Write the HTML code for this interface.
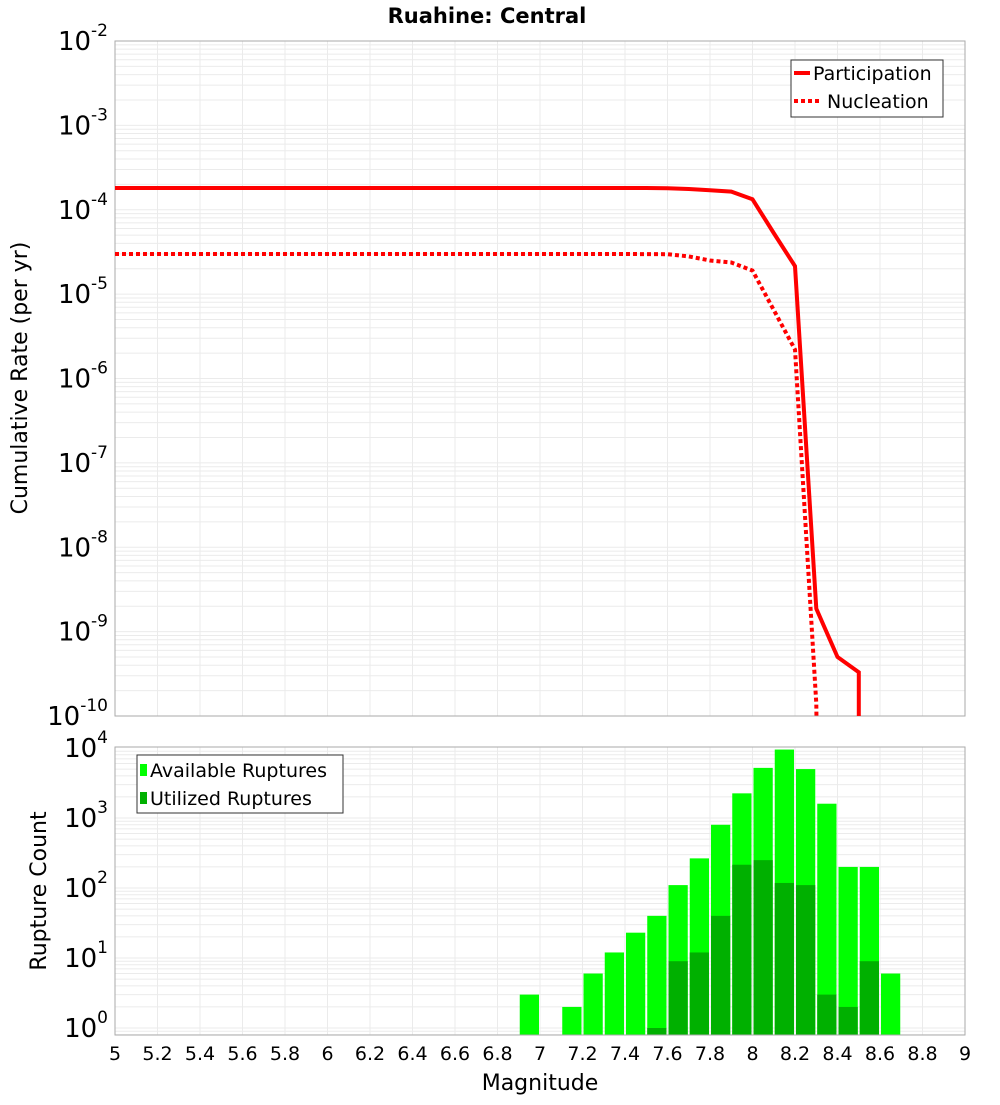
<!DOCTYPE html>
<html><head><meta charset="utf-8"><style>
body{margin:0;background:#fff;}
svg text{font-family:"DejaVu Sans","Liberation Sans",sans-serif;}
</style></head><body>
<svg id="c" width="1000" height="1100" xmlns="http://www.w3.org/2000/svg">
<rect width="1000" height="1100" fill="#fff"/>
<text x="487" y="23" text-anchor="middle" font-size="21" font-weight="bold">Ruahine: Central</text>
<g id="topg"></g><g id="botg"></g>
<text transform="translate(27,378) rotate(-90)" text-anchor="middle" font-size="22">Cumulative Rate (per yr)</text>
<text transform="translate(46,891) rotate(-90)" text-anchor="middle" font-size="22">Rupture Count</text>
<text x="540" y="1090" text-anchor="middle" font-size="22">Magnitude</text>
</svg>
<script>
const partMags=[5,5.1,5.2,5.3,5.4,5.5,5.6,5.7,5.8,5.9,6,6.1,6.2,6.3,6.4,6.5,6.6,6.7,6.8,6.9,7,7.1,7.2,7.3,7.4,7.5,7.6,7.7,7.8,7.9,8.0,8.1,8.2,8.3,8.4,8.5,8.5001];
const partVals=[1.81e-4,1.81e-4,1.81e-4,1.81e-4,1.81e-4,1.81e-4,1.81e-4,1.81e-4,1.81e-4,1.81e-4,1.81e-4,1.81e-4,1.81e-4,1.81e-4,1.81e-4,1.81e-4,1.81e-4,1.81e-4,1.81e-4,1.81e-4,1.81e-4,1.81e-4,1.81e-4,1.81e-4,1.81e-4,1.81e-4,1.8e-4,1.76e-4,1.7e-4,1.64e-4,1.33e-4,5.3e-5,2.14e-5,1.87e-9,5.0e-10,3.3e-10,1e-12];
const nuclMags=[5,5.2,5.4,5.6,5.8,6,6.2,6.4,6.6,6.8,7,7.2,7.4,7.6,7.7,7.8,7.9,8.0,8.1,8.2,8.3,8.31];
const nuclVals=[2.99e-5,2.99e-5,2.99e-5,2.99e-5,2.99e-5,2.99e-5,2.99e-5,2.99e-5,2.99e-5,2.99e-5,2.99e-5,2.99e-5,2.99e-5,2.97e-5,2.8e-5,2.5e-5,2.37e-5,1.9e-5,6.5e-6,2.2e-6,1.4e-10,1e-12];
const binMags=[6.9,7.1,7.2,7.3,7.4,7.5,7.6,7.7,7.8,7.9,8.0,8.1,8.2,8.3,8.4,8.5,8.6];
const availCounts=[3,2,6,12,23,40,110,265,800,2250,5200,9500,5000,1600,200,200,6];
const usedCounts=[0,0,0,0,0,1,9,12,40,215,250,118,110,3,2,9,0];
const xTicks=[5,5.2,5.4,5.6,5.8,6,6.2,6.4,6.6,6.8,7,7.2,7.4,7.6,7.8,8,8.2,8.4,8.6,8.8,9];
const topExps=[-2,-3,-4,-5,-6,-7,-8,-9,-10];
const botExps=[4,3,2,1,0];

const NS="http://www.w3.org/2000/svg";
const L=115,R=965;
const X=m=>L+(m-5)*(R-L)/4;
const TT=41,TB=716;
const Yt=v=>TT+(-2-Math.log10(v))*(TB-TT)/8;
const BT=747,BB=1035;
const Yb=v=>1028-Math.log10(v)*70;
function mk(p,tag,at){const e=document.createElementNS(NS,tag);for(const k in at)e.setAttribute(k,at[k]);p.appendChild(e);return e;}
const topG=document.getElementById('topg'),botG=document.getElementById('botg');
let tg=mk(topG,'g',{});


for(let e=-10;e<-2;e++)for(let k=1;k<10;k++){const y=Yt(k*Math.pow(10,e));mk(tg,'line',{x1:L,x2:R,y1:y,y2:y,stroke:'#ebebeb','stroke-width':1});}
xTicks.forEach(t=>{mk(tg,'line',{x1:X(t),x2:X(t),y1:TT,y2:TB,stroke:'#ebebeb'});});
mk(topG,'rect',{x:L,y:TT,width:R-L,height:TB-TT,fill:'none',stroke:'#aaa'});
topExps.forEach(e=>{const t=mk(topG,'text',{x:L-7,y:Yt(Math.pow(10,e))+9,'text-anchor':'end','font-size':26});


t.innerHTML='10<tspan dy="-14" font-size="17">'+e+'</tspan>';});
const defs=mk(topG,'defs',{});const cp=mk(defs,'clipPath',{id:'cpt'});mk(cp,'rect',{x:L,y:TT,width:R-L,height:TB-TT});
function line(mags,vals,dash,name){const d=mags.map((m,i)=>(i?'L':'M')+X(m).toFixed(1)+','+Yt(vals[i]).toFixed(1)).join('');
const p=mk(topG,'path',{d:d,fill:'none',stroke:'#f00','stroke-width':4,'clip-path':'url(#cpt)'});if(dash)p.setAttribute('stroke-dasharray','4,3');

}
line(partMags,partVals,false,'participation-line');
line(nuclMags,nuclVals,true,'nucleation-line');
let lg=mk(topG,'g',{});


mk(lg,'rect',{x:791,y:60,width:152,height:57,fill:'#fff',stroke:'#333'});
mk(lg,'line',{x1:794,x2:810,y1:73,y2:73,stroke:'#f00','stroke-width':4});
mk(lg,'line',{x1:794,x2:822,y1:101,y2:101,stroke:'#f00','stroke-width':4,'stroke-dasharray':'4,3'});
let t1=mk(lg,'text',{x:813,y:80,'font-size':19});t1.textContent='Participation';
let t2=mk(lg,'text',{x:827,y:108,'font-size':19});t2.textContent='Nucleation';
let bg=mk(botG,'g',{});


for(let e=-1;e<4;e++)for(let k=1;k<10;k++){const y=Yb(k*Math.pow(10,e));if(y>BT&&y<BB)mk(bg,'line',{x1:L,x2:R,y1:y,y2:y,stroke:'#ebebeb'});}
xTicks.forEach(t=>{mk(bg,'line',{x1:X(t),x2:X(t),y1:BT,y2:BB,stroke:'#ebebeb'});});
const w=(R-L)/40;
binMags.forEach((m,i)=>{const x=X(m)+1;
if(availCounts[i]>0){const r=mk(botG,'rect',{x:x,y:Yb(availCounts[i]),width:w-2,height:BB-Yb(availCounts[i]),fill:'#00ff00'});

}
if(usedCounts[i]>0){const r=mk(botG,'rect',{x:x,y:Yb(usedCounts[i]),width:w-2,height:BB-Yb(usedCounts[i]),fill:'#00b000'});

}});
mk(botG,'rect',{x:L,y:BT,width:R-L,height:BB-BT,fill:'none',stroke:'#aaa'});
botExps.forEach(e=>{const t=mk(botG,'text',{x:L-7,y:Yb(Math.pow(10,e))+9,'text-anchor':'end','font-size':26});


t.innerHTML='10<tspan dy="-14" font-size="17">'+e+'</tspan>';});
xTicks.forEach(v=>{const t=mk(botG,'text',{x:X(v),y:1060,'text-anchor':'middle','font-size':19});


t.textContent=String(v);});
let bl=mk(botG,'g',{});


mk(bl,'rect',{x:137,y:755,width:206,height:58,fill:'#fff',stroke:'#333'});
mk(bl,'rect',{x:140,y:764,width:7,height:12,fill:'#00ff00'});
mk(bl,'rect',{x:140,y:792,width:7,height:12,fill:'#00b000'});
let b1=mk(bl,'text',{x:150,y:777,'font-size':19});b1.textContent='Available Ruptures';
let b2=mk(bl,'text',{x:150,y:805,'font-size':19});b2.textContent='Utilized Ruptures';
</script>
</body></html>
